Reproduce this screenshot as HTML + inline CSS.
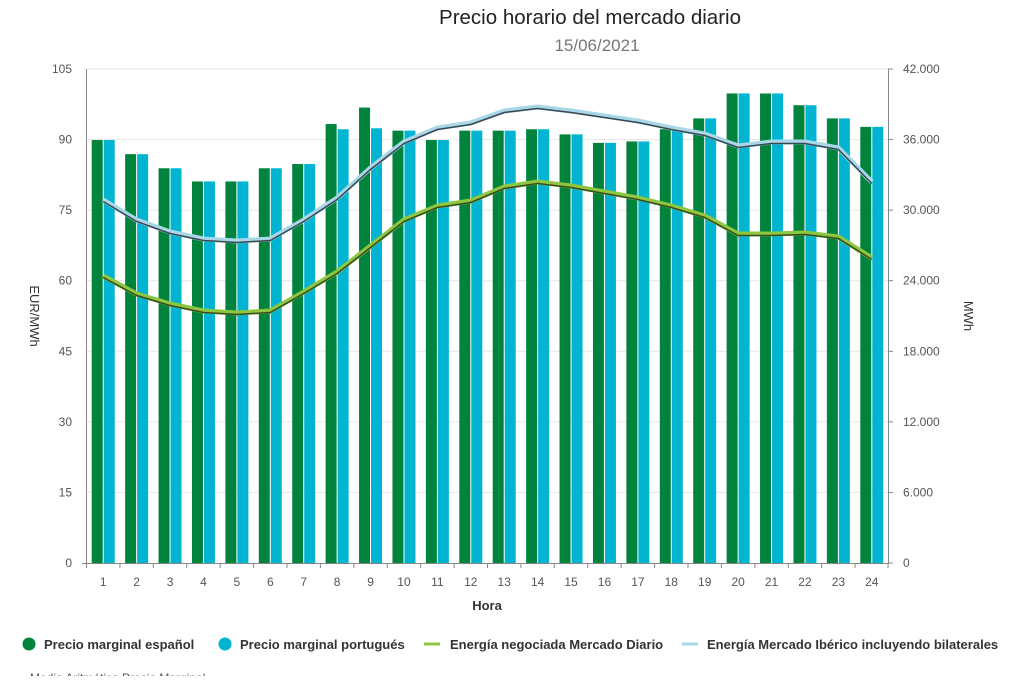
<!DOCTYPE html><html><head><meta charset="utf-8"><style>body{margin:0;background:#fff}svg{font-family:"Liberation Sans",sans-serif}</style></head><body>
<svg width="1024" height="676" viewBox="0 0 1024 676" xmlns="http://www.w3.org/2000/svg">
<text x="590" y="24" font-size="20.5" text-anchor="middle" fill="#222">Precio horario del mercado diario</text>
<text x="597" y="51" font-size="17" text-anchor="middle" fill="#777">15/06/2021</text>
<g id="grid" stroke="#e6e6e6" stroke-width="1"></g>
<g id="bars"></g>
<g id="lines"></g>
<line x1="86.5" y1="69" x2="86.5" y2="564" stroke="#888"/>
<line x1="888.5" y1="69" x2="888.5" y2="564" stroke="#888"/>
<line x1="82" y1="563.5" x2="888" y2="563.5" stroke="#888"/>
<g id="labels" font-size="12" fill="#555"></g>
<text x="487" y="610" font-size="13" font-weight="bold" text-anchor="middle" fill="#333">Hora</text>
<text transform="translate(30,316) rotate(90)" font-size="13" text-anchor="middle" fill="#333">EUR/MWh</text>
<text transform="translate(964,316) rotate(90)" font-size="13" text-anchor="middle" fill="#333">MWh</text>
<g font-size="13" font-weight="bold" fill="#333">
<circle cx="29" cy="644" r="6.5" fill="#00843d"/><text x="44" y="649">Precio marginal español</text>
<circle cx="225" cy="644" r="6.5" fill="#00b4d2"/><text x="240" y="649">Precio marginal portugués</text>
<line x1="424" y1="644" x2="440" y2="644" stroke="#8dc63f" stroke-width="3"/><text x="450" y="649">Energía negociada Mercado Diario</text>
<line x1="682" y1="644" x2="698" y2="644" stroke="#a8d8e8" stroke-width="3"/><text x="707" y="649">Energía Mercado Ibérico incluyendo bilaterales</text>
</g>
<text x="30" y="682" font-size="12" fill="#555">Media Aritmética Precio Marginal</text>
</svg>
<script>
const ns="http://www.w3.org/2000/svg";
function el(p,t,a,txt){const e=document.createElementNS(ns,t);for(const k in a)e.setAttribute(k,a[k]);if(txt!==undefined)e.textContent=txt;document.getElementById(p).appendChild(e);}
const y0=563,k=494/105;
const ly=["0","15","30","45","60","75","90","105"],ry=["0","6.000","12.000","18.000","24.000","30.000","36.000","42.000"];
for(let i=0;i<8;i++){const y=y0-i*15*k;if(i>0)el("grid","line",{x1:87,x2:888,y1:y,y2:y});
el("labels","text",{x:72,y:y+4,"text-anchor":"end"},ly[i]);el("labels","text",{x:903,y:y+4},ry[i]);
el("labels","line",{x1:888,x2:893,y1:y,y2:y,stroke:"#888"});}
const es=[89.9,86.9,83.9,81.1,81.1,83.9,84.8,93.3,96.8,91.9,89.9,91.9,91.9,92.2,91.1,89.3,89.6,92.2,94.5,99.8,99.8,97.3,94.5,92.7];
const pt=[89.9,86.9,83.9,81.1,81.1,83.9,84.8,92.2,92.4,91.9,89.9,91.9,91.9,92.2,91.1,89.3,89.6,92.2,94.5,99.8,99.8,97.3,94.5,92.7];
const w=802/24;
for(let i=0;i<24;i++){const c=86.5+w*(i+0.5);
el("bars","rect",{x:c-11.5,y:y0-es[i]*k,width:11,height:es[i]*k,fill:"#00843d"});
el("bars","rect",{x:c+0.5,y:y0-pt[i]*k,width:11,height:pt[i]*k,fill:"#00b4d2"});
el("labels","text",{x:c,y:586,"text-anchor":"middle"},String(i+1));
el("labels","line",{x1:86.5+w*i,x2:86.5+w*i,y1:563,y2:568,stroke:"#888"});}
el("labels","line",{x1:888,x2:888,y1:563,y2:568,stroke:"#888"});
const b=[200,220,232,239,241,239,220,198,168,142,128,123,111,107,111,116,121,128,134,146,142,142,148,182];
const g=[276,294,304,311,313,311,292,272,246,220,206,201,187,182,186,192,198,206,216,234,234,233,237,258];
function pts(a){return a.map((v,i)=>(86.5+w*(i+0.5))+","+v).join(" ");}
el("lines","polyline",{points:pts(b),fill:"none",stroke:"#a8d8e8","stroke-width":5,"stroke-linejoin":"round"});
el("lines","polyline",{points:pts(b).split(" ").map(p=>{const [x,y]=p.split(",");return x+","+(+y+1.5)}).join(" "),fill:"none",stroke:"#3a4650","stroke-width":1.5});
el("lines","polyline",{points:pts(g),fill:"none",stroke:"#8dc63f","stroke-width":5,"stroke-linejoin":"round"});
el("lines","polyline",{points:pts(g).split(" ").map(p=>{const [x,y]=p.split(",");return x+","+(+y+1.5)}).join(" "),fill:"none",stroke:"#3a4a20","stroke-width":1.5});
</script>
</body></html>
